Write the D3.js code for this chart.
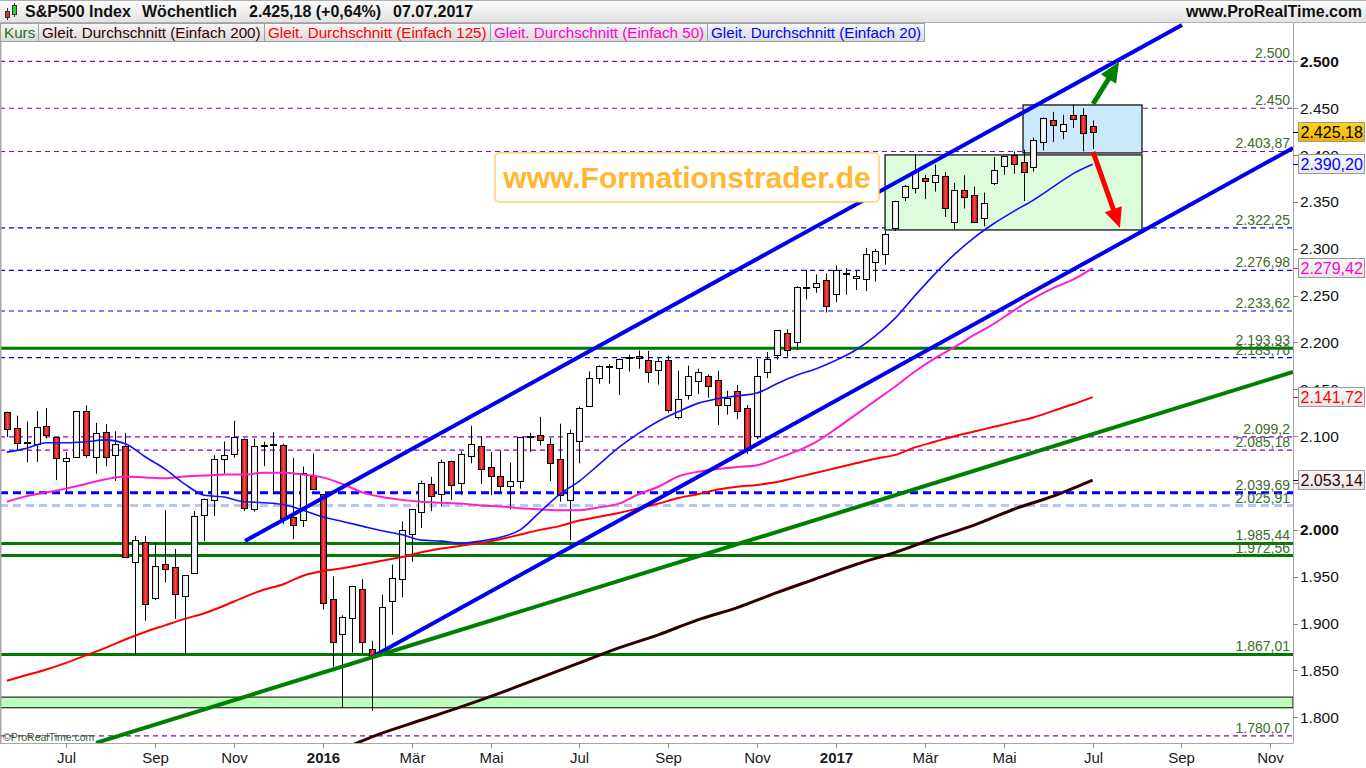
<!DOCTYPE html>
<html>
<head>
<meta charset="utf-8">
<script src="https://cdn.jsdelivr.net/npm/d3@7"></script>
<style>
  body { margin: 0; background: #fff; }
  svg { display: block; font-family: "Liberation Sans", Arial, sans-serif; }
</style>
</head>
<body>
<svg id="chart" width="1366" height="768"></svg>
<script>
// ---- data (weekly candles, first week starts Mon 25.05.2015) ----
const firstWeek = new Date(2015, 4, 25);

const opens = [
  2125.3, 2108.6, 2092.3, 2091.3, 2110.6, 2098.6, 2073.0, 2077.7, 2126.8, 2078.2,
  2104.5, 2080.0, 2089.7, 1965.2, 1986.7, 1927.3, 1963.1, 1960.8, 1929.2, 1954.3,
  2015.7, 2031.7, 2075.1, 2080.8, 2096.6, 2022.1, 2089.4, 2090.9, 2090.4, 2013.4,
  2010.3, 2057.8, 2038.2, 1926.1, 1888.7, 1906.3, 1936.9, 1873.3, 1871.4, 1924.4,
  1947.6, 1996.1, 2019.3, 2048.6, 2037.9, 2073.2, 2050.2, 2078.8, 2089.4, 2067.2,
  2057.6, 2046.5, 2052.2, 2100.1, 2100.8, 2091.8, 2075.6, 2031.5, 2095.1, 2131.7,
  2162.0, 2175.1, 2173.1, 2183.8, 2186.1, 2181.6, 2170.2, 2181.6, 2120.9, 2144.0,
  2158.5, 2164.3, 2160.4, 2133.0, 2148.5, 2129.8, 2100.6, 2168.3, 2186.9, 2210.2,
  2200.2, 2258.8, 2259.2, 2266.2, 2251.6, 2273.6, 2269.1, 2267.8, 2286.0, 2294.3,
  2321.7, 2354.9, 2365.2, 2375.2, 2371.6, 2378.2, 2329.1, 2362.3, 2357.2, 2332.6,
  2370.3, 2388.5, 2399.9, 2393.0, 2387.2, 2414.5, 2437.8, 2425.9, 2442.5, 2443.3, 2431.4
];
const highs = [
  2126.2, 2121.9, 2115.4, 2126.6, 2130.0, 2098.6, 2083.2, 2127.0, 2132.8, 2114.2,
  2112.7, 2105.3, 2103.5, 1993.5, 1993.5, 1986.0, 2020.9, 1979.6, 1951.4, 2020.0,
  2033.5, 2079.7, 2094.3, 2116.5, 2097.6, 2097.1, 2094.1, 2104.3, 2092.0, 2076.7,
  2067.6, 2081.6, 2038.2, 1950.3, 1908.9, 1940.2, 1947.2, 1881.6, 1930.7, 1963.0,
  2009.1, 2022.4, 2052.4, 2056.6, 2075.1, 2074.0, 2083.7, 2111.1, 2099.9, 2083.4,
  2084.9, 2071.9, 2099.3, 2103.5, 2120.6, 2098.1, 2113.3, 2107.0, 2131.7, 2169.1,
  2175.6, 2177.1, 2182.9, 2187.0, 2191.5, 2191.0, 2183.0, 2186.0, 2170.0, 2175.3,
  2172.0, 2165.9, 2169.6, 2148.4, 2154.8, 2133.3, 2182.3, 2189.9, 2213.4, 2214.1,
  2260.0, 2277.5, 2272.6, 2273.8, 2282.1, 2279.3, 2277.0, 2301.0, 2300.0, 2319.2,
  2351.2, 2368.3, 2401.0, 2378.8, 2390.0, 2382.0, 2370.4, 2378.4, 2366.4, 2360.0,
  2398.2, 2399.3, 2403.9, 2405.8, 2418.7, 2440.2, 2446.2, 2443.0, 2453.8, 2450.0, 2437.0
];
const lows = [
  2099.2, 2085.7, 2072.1, 2072.5, 2097.4, 2053.0, 2040.0, 2077.7, 2077.0, 2060.0,
  2067.9, 2052.1, 1970.9, 1867.0, 1903.1, 1925.0, 1944.0, 1905.0, 1868.0, 1954.3,
  1988.0, 2015.0, 2060.0, 2077.0, 2020.0, 2019.4, 2068.0, 2038.0, 2006.0, 1990.0,
  2003.0, 2043.6, 1915.0, 1854.0, 1810.0, 1869.0, 1868.0, 1807.0, 1865.0, 1888.0,
  1928.0, 1966.0, 2002.0, 2020.0, 2025.0, 2032.0, 2037.0, 2071.0, 2049.0, 2037.0,
  2040.0, 2022.0, 2044.0, 2083.0, 2090.0, 2052.0, 2030.0, 1989.0, 2071.0, 2131.7,
  2156.0, 2156.0, 2144.0, 2169.0, 2172.0, 2157.0, 2155.0, 2125.0, 2118.0, 2139.0,
  2145.0, 2141.0, 2112.0, 2123.0, 2118.0, 2081.0, 2097.0, 2162.0, 2181.7, 2185.0,
  2192.0, 2246.0, 2253.0, 2232.0, 2243.0, 2251.0, 2256.0, 2255.0, 2265.0, 2283.0,
  2319.1, 2351.0, 2359.0, 2353.0, 2361.0, 2334.0, 2321.0, 2343.0, 2328.0, 2324.0,
  2368.0, 2379.0, 2380.0, 2351.0, 2382.5, 2405.0, 2414.0, 2417.0, 2429.0, 2404.0, 2406.5
];
const closes = [
  2107.4, 2092.8, 2094.1, 2110.0, 2101.5, 2076.8, 2076.6, 2126.6, 2079.7, 2103.8,
  2077.6, 2091.5, 1970.9, 1988.9, 1921.2, 1961.0, 1958.0, 1931.3, 1951.4, 2014.9,
  2033.1, 2075.2, 2079.4, 2099.2, 2023.0, 2089.2, 2090.1, 2091.7, 2012.4, 2005.6,
  2061.0, 2043.9, 1922.0, 1880.3, 1906.9, 1940.2, 1880.1, 1864.8, 1917.8, 1948.1,
  2000.0, 2022.2, 2049.6, 2035.9, 2072.8, 2047.6, 2080.7, 2091.6, 2065.3, 2057.1,
  2046.6, 2052.3, 2099.1, 2099.1, 2096.1, 2071.2, 2037.4, 2103.0, 2129.9, 2161.7,
  2175.0, 2173.6, 2182.9, 2184.1, 2183.9, 2169.0, 2180.0, 2127.8, 2139.2, 2164.7,
  2168.3, 2153.7, 2133.0, 2141.2, 2126.4, 2085.2, 2164.5, 2181.9, 2213.4, 2192.0,
  2259.5, 2258.1, 2263.8, 2238.8, 2277.0, 2274.6, 2271.3, 2294.7, 2297.4, 2316.1,
  2351.2, 2367.3, 2383.1, 2372.6, 2378.3, 2344.0, 2362.7, 2355.5, 2329.0, 2348.7,
  2384.2, 2399.3, 2390.9, 2381.7, 2415.8, 2439.1, 2431.8, 2433.2, 2438.3, 2423.4, 2425.18
];

// moving averages, every 2nd week from week 0
const ma20 = [
  2083, 2087, 2093, 2093, 2094, 2096, 2092, 2078, 2065, 2049,
  2037, 2035, 2030, 2029, 2027, 2021, 2014, 2009, 2004, 1999,
  1995, 1989, 1988, 1986, 1988, 1992, 2000, 2019, 2038, 2052,
  2070, 2088, 2103, 2116, 2126, 2135, 2140, 2143, 2146, 2156,
  2165, 2172, 2181, 2192, 2207, 2226, 2250, 2273, 2294, 2312,
  2327, 2340, 2352, 2366, 2380, 2390.20
];
const ma50 = [
  2030, 2036, 2040, 2044, 2049, 2054, 2057, 2056, 2055, 2057,
  2058, 2059, 2059, 2061, 2061, 2059, 2056, 2049, 2040, 2035,
  2032, 2030, 2029, 2028, 2026, 2025, 2023, 2022, 2021, 2021,
  2024, 2028, 2038, 2046, 2057, 2062, 2065, 2067, 2069, 2076,
  2084, 2094, 2108, 2123, 2138, 2153, 2169, 2183, 2195, 2208,
  2220, 2234, 2247, 2258, 2267, 2279.42
];
const ma125 = [
  1839, 1845, 1851, 1858, 1866, 1874, 1883, 1891, 1898, 1905,
  1911, 1919, 1928, 1936, 1942, 1951, 1956, 1959, 1963, 1967,
  1971, 1976, 1980, 1983, 1986, 1990, 1995, 2000, 2004, 2010,
  2014, 2018, 2023, 2028, 2034, 2038, 2043, 2046, 2048, 2051,
  2056, 2061, 2066, 2071, 2076, 2080, 2088, 2094, 2100, 2105,
  2110, 2115, 2120, 2127, 2134, 2141.72
];
// every 4th week from week 34
const ma200 = [
  1766, 1783, 1797, 1811, 1826, 1842, 1858, 1874, 1888, 1904,
  1917, 1933, 1948, 1963, 1976, 1991, 2005, 2022, 2036, 2053.14
];

// horizontal levels drawn by the author
const levelValues = [2500, 2450, 2403.87, 2322.25, 2276.98, 2233.62, 2193.93, 2183.76,
                     2099.2, 2085.18, 2039.69, 2025.91, 1985.44, 1972.56, 1867.01, 1780.07];
const levelKinds  = ["violet", "violet", "violet", "blue", "blue", "blue", "green", "blue",
                     "violet", "violet", "blueBold", "lightBold", "green", "green", "green", "violet"];
const supportBand = [1810.1, 1821.5];

// trend lines as [week index, value]
const upperChannel = [[24.12, 1988.2], [119.05, 2538.9]];
const lowerChannel = [[36.99, 1864.3], [130.3, 2407.6]];
const greenTrend   = [[9.03, 1772.6], [130.3, 2168.5]];

// annotation boxes [week from, week to, value low, value high]
const rangeBox  = [88.97, 115.0, 2320.1, 2400.2];
const topBox    = [102.95, 115.0, 2402.3, 2453.5];
const brandBox  = [49.45, 88.36, 2350.0, 2402.3];
const upArrow   = [[110.04, 2454.5], [112.67, 2499.3]];
const downArrow = [[110.04, 2403.4], [112.77, 2322.2]];

const yTicks = d3.range(1800, 2501, 50);
const monthNames = ["Jan", "Feb", "Mär", "Apr", "Mai", "Jun", "Jul", "Aug", "Sep", "Okt", "Nov", "Dez"];

// ---- setup ----
const svg = d3.select("#chart");
const plot = { left: 0, right: 1293, top: 23, bottom: 743 };
const x = d3.scaleLinear().domain([-0.7, 130.3]).range([plot.left, plot.right]);
const y = d3.scaleLinear().domain([1772.5, 2541]).range([plot.bottom, plot.top]);

const de = d3.formatLocale({ decimal: ",", thousands: ".", grouping: [3], currency: ["", ""] });
const fmtTick = de.format(",d");
const fmtLevel = de.format(",.2~f");
const fmtBadge = de.format(",.2f");

const defs = svg.append("defs");
defs.append("clipPath").attr("id", "plotClip").append("rect")
  .attr("x", plot.left).attr("y", plot.top)
  .attr("width", plot.right - plot.left).attr("height", plot.bottom - plot.top);

function grad(id, stops, vertical) {
  const g = defs.append("linearGradient").attr("id", id)
    .attr("x1", 0).attr("y1", 0).attr("x2", vertical ? 0 : 1).attr("y2", vertical ? 1 : 0);
  stops.forEach(s => g.append("stop").attr("offset", s[0]).attr("stop-color", s[1]));
}
grad("redBody", [[0, "#b00000"], [0.5, "#ff4a4a"], [1, "#b00000"]], false);
grad("whiteBody", [[0, "#d8d8d8"], [0.5, "#ffffff"], [1, "#e4e4e4"]], false);
grad("headBg", [[0, "#fcfcfc"], [1, "#e2e2e2"]], true);
grad("legBg", [[0, "#f7f7f7"], [1, "#d9d9d9"]], true);
grad("goldBg", [[0, "#ffd21a"], [1, "#f2b200"]], true);
grad("greyBg", [[0, "#fafafa"], [1, "#e6e6e6"]], true);

svg.append("rect").attr("width", 1366).attr("height", 768).attr("fill", "#fff");

const clipped = svg.append("g").attr("clip-path", "url(#plotClip)");

// support band
clipped.append("rect")
  .attr("x", plot.left).attr("width", plot.right - plot.left)
  .attr("y", y(supportBand[1])).attr("height", y(supportBand[0]) - y(supportBand[1]))
  .attr("fill", "#bbffbb").attr("stroke", "#000").attr("stroke-width", 1);

// level lines
const levelStyle = {
  violet:    { color: "#8a00d0", width: 1.2, dash: "5,4" },
  blue:      { color: "#0000ff", width: 1.2, dash: "5,4" },
  green:     { color: "#007a00", width: 3,   dash: null },
  blueBold:  { color: "#0000ff", width: 3,   dash: "8,5" },
  lightBold: { color: "#b3c6f7", width: 3,   dash: "8,5" }
};
const levels = levelValues.map((v, i) => ({ v, s: levelStyle[levelKinds[i]] }));
clipped.selectAll("line.level").data(levels).join("line")
  .attr("x1", plot.left).attr("x2", plot.right)
  .attr("y1", d => y(d.v)).attr("y2", d => y(d.v))
  .attr("stroke", d => d.s.color).attr("stroke-width", d => d.s.width)
  .attr("stroke-dasharray", d => d.s.dash);

// level labels
svg.selectAll("text.level").data(levels).join("text")
  .attr("x", plot.right - 3).attr("y", d => y(d.v) - 3)
  .attr("text-anchor", "end").attr("font-size", 14).attr("fill", "#3d6b2a")
  .text(d => fmtLevel(d.v));

// annotation boxes
function boxRect(b, fill, stroke) {
  clipped.append("rect")
    .attr("x", x(b[0])).attr("width", x(b[1]) - x(b[0]))
    .attr("y", y(b[3])).attr("height", y(b[2]) - y(b[3]))
    .attr("fill", fill).attr("stroke", stroke).attr("stroke-width", 1.3);
}
boxRect(rangeBox, "#dcfcdc", "#111");
boxRect(topBox, "#cce9fb", "#111");

// brand box
svg.append("rect")
  .attr("x", x(brandBox[0])).attr("width", x(brandBox[1]) - x(brandBox[0]))
  .attr("y", y(brandBox[3])).attr("height", y(brandBox[2]) - y(brandBox[3]))
  .attr("rx", 4).attr("fill", "#fffefa").attr("stroke", "#ffc550").attr("stroke-width", 1.2);
svg.append("text")
  .attr("x", (x(brandBox[0]) + x(brandBox[1])) / 2)
  .attr("y", (y(brandBox[3]) + y(brandBox[2])) / 2 + 10.5)
  .attr("text-anchor", "middle").attr("font-size", 30).attr("font-weight", "bold")
  .attr("fill", "#ffb836").text("www.Formationstrader.de");

// candles
const idx = d3.range(closes.length);
const cx = i => Math.round(x(i)) + 0.5;
const candles = clipped.append("g");
candles.selectAll("line.wick").data(idx).join("line")
  .attr("x1", cx).attr("x2", cx)
  .attr("y1", i => y(highs[i])).attr("y2", i => y(lows[i]))
  .attr("stroke", "#000").attr("stroke-width", 1);
candles.selectAll("rect.body").data(idx).join("rect")
  .attr("x", i => cx(i) - 3).attr("width", 6)
  .attr("y", i => Math.round(y(Math.max(opens[i], closes[i]))) + 0.5)
  .attr("height", i => Math.max(1, Math.round(y(Math.min(opens[i], closes[i]))) - Math.round(y(Math.max(opens[i], closes[i])))))
  .attr("fill", i => closes[i] >= opens[i] ? "url(#whiteBody)" : "url(#redBody)")
  .attr("stroke", "#000").attr("stroke-width", 1);

// moving averages
function maPath(values, start, stride) {
  return d3.line().x((d, k) => x(start + k * stride)).y(d => y(d)).curve(d3.curveMonotoneX)(values);
}
const maSpecs = [
  { values: ma200, start: 34, stride: 4, color: "#330000", width: 3 },
  { values: ma125, start: 0, stride: 2, color: "#ff0000", width: 2 },
  { values: ma50, start: 0, stride: 2, color: "#ff1fcc", width: 2 },
  { values: ma20, start: 0, stride: 2, color: "#1010ff", width: 1.6 }
];
clipped.selectAll("path.ma").data(maSpecs).join("path")
  .attr("d", d => maPath(d.values, d.start, d.stride))
  .attr("fill", "none").attr("stroke", d => d.color).attr("stroke-width", d => d.width)
  .attr("stroke-linejoin", "round");

// trend lines
const seg = d3.line().x(d => x(d[0])).y(d => y(d[1]));
[[upperChannel, "#0000ee"], [lowerChannel, "#0000ee"], [greenTrend, "#008000"]].forEach(t => {
  clipped.append("path").attr("d", seg(t[0]))
    .attr("fill", "none").attr("stroke", t[1]).attr("stroke-width", 4);
});

// arrows
function arrow(a, color) {
  const x0 = x(a[0][0]), y0 = y(a[0][1]), x1 = x(a[1][0]), y1 = y(a[1][1]);
  const len = Math.hypot(x1 - x0, y1 - y0);
  const ux = (x1 - x0) / len, uy = (y1 - y0) / len;
  const head = 20, half = 9;
  const bx = x1 - ux * head, by = y1 - uy * head;
  svg.append("line").attr("x1", x0).attr("y1", y0).attr("x2", bx + ux * 2).attr("y2", by + uy * 2)
    .attr("stroke", color).attr("stroke-width", 5);
  svg.append("polygon")
    .attr("points", [[x1, y1], [bx - uy * half, by + ux * half], [bx + uy * half, by - ux * half]].map(p => p.join(",")).join(" "))
    .attr("fill", color);
}
arrow(upArrow, "#008000");
arrow(downArrow, "#ff0000");

// ---- axes ----
// frame
svg.append("line").attr("x1", plot.right + 0.5).attr("x2", plot.right + 0.5)
  .attr("y1", plot.top).attr("y2", plot.bottom).attr("stroke", "#a8a8a8");
svg.append("line").attr("x1", 0).attr("x2", plot.right + 0.5)
  .attr("y1", plot.bottom + 0.5).attr("y2", plot.bottom + 0.5).attr("stroke", "#a8a8a8");
svg.append("line").attr("x1", 0.5).attr("x2", 0.5)
  .attr("y1", plot.top).attr("y2", plot.bottom).attr("stroke", "#a8a8a8").attr("stroke-width", 2);

// y axis
const yAxis = svg.append("g");
yAxis.selectAll("line").data(yTicks).join("line")
  .attr("x1", plot.right).attr("x2", plot.right + 5)
  .attr("y1", d => Math.round(y(d)) + 0.5).attr("y2", d => Math.round(y(d)) + 0.5)
  .attr("stroke", "#888");
yAxis.selectAll("text").data(yTicks).join("text")
  .attr("x", plot.right + 7).attr("y", d => y(d) + 5.5)
  .attr("font-size", 15.5).attr("fill", "#111")
  .attr("font-weight", d => d % 500 === 0 ? "bold" : "normal")
  .text(d => fmtTick(d));

// x axis
const months = d3.timeMonth.range(new Date(2015, 6, 1), new Date(2017, 11, 2), 2);
const xTicks = months.map(m => ({ m, i: d3.timeMonday.count(firstWeek, d3.timeMonday.ceil(m)) }));
const xAxis = svg.append("g");
xAxis.selectAll("line").data(xTicks).join("line")
  .attr("x1", d => cx(d.i)).attr("x2", d => cx(d.i))
  .attr("y1", plot.bottom).attr("y2", plot.bottom + 5).attr("stroke", "#888");
xAxis.selectAll("text").data(xTicks).join("text")
  .attr("x", d => cx(d.i)).attr("y", 763)
  .attr("text-anchor", "middle").attr("font-size", 15).attr("fill", "#1a1a1a")
  .attr("font-weight", d => d.m.getMonth() === 0 ? "bold" : "normal")
  .text(d => d.m.getMonth() === 0 ? d.m.getFullYear() : monthNames[d.m.getMonth()]);

// value badges on the right axis
const badges = [
  { v: closes[closes.length - 1], color: "#000", bg: "url(#goldBg)" },
  { v: ma20[ma20.length - 1], color: "#0000ff", bg: "url(#greyBg)" },
  { v: ma50[ma50.length - 1], color: "#ff00cc", bg: "url(#greyBg)" },
  { v: ma125[ma125.length - 1], color: "#ff0000", bg: "url(#greyBg)" },
  { v: ma200[ma200.length - 1], color: "#330000", bg: "url(#greyBg)" }
];
const badge = svg.selectAll("g.badge").data(badges).join("g")
  .attr("transform", d => `translate(0,${Math.round(y(d.v))})`);
badge.append("line").attr("x1", plot.right).attr("x2", plot.right + 5)
  .attr("y1", 0.5).attr("y2", 0.5).attr("stroke", d => d.color);
badge.append("rect").attr("x", plot.right + 5.5).attr("y", -9.5)
  .attr("width", 66).attr("height", 19)
  .attr("fill", d => d.bg).attr("stroke", "#9a9a9a");
badge.append("text").attr("x", plot.right + 7.5).attr("y", 6)
  .attr("font-size", 16).attr("fill", d => d.color).text(d => fmtBadge(d.v));

// copyright
svg.append("text").attr("x", 3).attr("y", 741).attr("font-size", 10.5)
  .attr("fill", "#2e5e1e").text("©ProRealTime.com");

// ---- header ----
svg.append("rect").attr("x", 0).attr("y", 0).attr("width", 1366).attr("height", 23)
  .attr("fill", "url(#headBg)");
svg.append("line").attr("x1", 0).attr("x2", 1366).attr("y1", 0.5).attr("y2", 0.5).attr("stroke", "#b0b0b0");
svg.append("line").attr("x1", 0).attr("x2", 1366).attr("y1", 22.5).attr("y2", 22.5).attr("stroke", "#b0b0b0");
// small candle icon
svg.append("line").attr("x1", 7.5).attr("x2", 7.5).attr("y1", 8).attr("y2", 20).attr("stroke", "#333");
svg.append("rect").attr("x", 5.5).attr("y", 11.5).attr("width", 4).attr("height", 6)
  .attr("fill", "#e03030").attr("stroke", "#333");
svg.append("line").attr("x1", 14.5).attr("x2", 14.5).attr("y1", 3).attr("y2", 17).attr("stroke", "#333");
svg.append("rect").attr("x", 12.5).attr("y", 5.5).attr("width", 4).attr("height", 9)
  .attr("fill", "#30d030").attr("stroke", "#333");

const titleParts = [
  { t: "S&P500 Index", x: 25 },
  { t: "Wöchentlich", x: 142 },
  { t: "2.425,18 (+0,64%)", x: 249 },
  { t: "07.07.2017", x: 393 }
];
svg.selectAll("text.title").data(titleParts).join("text")
  .attr("x", d => d.x).attr("y", 17).attr("font-size", 16).attr("font-weight", "bold")
  .attr("fill", "#111").text(d => d.t);
svg.append("text").attr("x", 1362).attr("y", 17).attr("text-anchor", "end")
  .attr("font-size", 16).attr("font-weight", "bold").attr("fill", "#111").text("www.ProRealTime.com");

// legend row
const legendItems = [
  { t: "Kurs", c: "#2f6b1f" },
  { t: "Gleit. Durchschnitt (Einfach 200)", c: "#330000" },
  { t: "Gleit. Durchschnitt (Einfach 125)", c: "#ff0000" },
  { t: "Gleit. Durchschnitt (Einfach 50)", c: "#ff00cc" },
  { t: "Gleit. Durchschnitt (Einfach 20)", c: "#0000ff" }
];
let lx = 0;
legendItems.forEach(item => {
  const g = svg.append("g");
  const rect = g.append("rect").attr("y", 23.5).attr("height", 18)
    .attr("fill", "url(#legBg)").attr("stroke", "#a0a0a0");
  const txt = g.append("text").attr("x", lx + 4).attr("y", 38)
    .attr("font-size", 15.2).attr("fill", item.c).text(item.t);
  const w = Math.round(txt.node().getComputedTextLength()) + 7;
  rect.attr("x", lx + 0.5).attr("width", w);
  lx += w;
});
</script>
</body>
</html>
